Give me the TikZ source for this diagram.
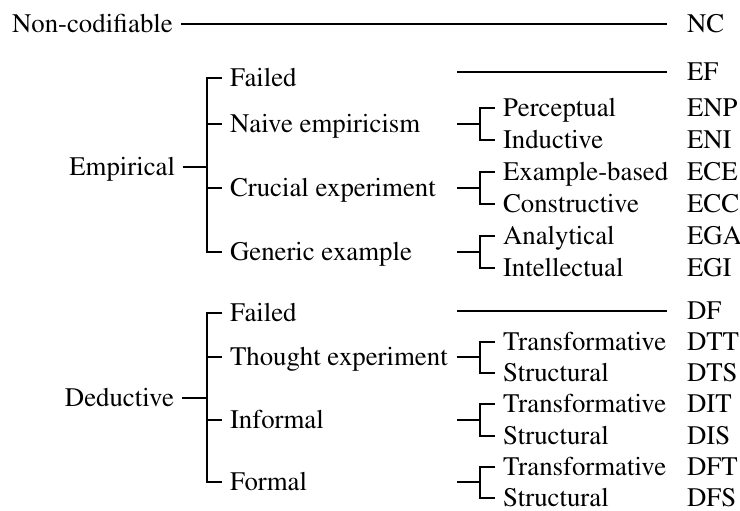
\documentclass[tikz,border=0pt]{standalone}
\usepackage[T1]{fontenc}
\usepackage{mathptmx}

\tikzset{
	lbl/.style={inner sep=2pt, outer sep=2pt, text height=8.9pt, text depth=0pt,
		font=\fontsize{13.4}{15}\selectfont},
	lft/.style={lbl, anchor=west},
	rgt/.style={lbl, anchor=east}
}

\begin{document}
\begin{tikzpicture}[x=0.5pt, y=-0.5pt, line width=1pt]
	\useasboundingbox (0,0) rectangle (740,510);
	% top level
	\node[lft] (noncod) at (4,24) {Non-codifiable};
	\node[rgt] (emp) at (183,167) {Empirical};
	\node[rgt] (ded) at (182,398) {Deductive};
	% empirical branch
	\node[lft] (efail) at (222,78) {Failed};
	\node[lft] (enaive) at (222,124) {Naive empiricism};
	\node[lft] (ecruc) at (222,188) {Crucial experiment};
	\node[lft] (egen) at (222,252) {Generic example};
	\node[lft] (enp) at (495,108) {Perceptual};
	\node[lft] (eni) at (495,140) {Inductive};
	\node[lft] (ece) at (495,172) {Example-based};
	\node[lft] (ecc) at (495,204) {Constructive};
	\node[lft] (ega) at (495,236) {Analytical};
	\node[lft] (egi) at (495,268) {Intellectual};
	% deductive branch
	\node[lft] (dfail) at (222,313) {Failed};
	\node[lft] (dthou) at (222,357) {Thought experiment};
	\node[lft] (dinf) at (222,420) {Informal};
	\node[lft] (dform) at (222,482) {Formal};
	\node[lft] (dtt) at (495,342) {Transformative};
	\node[lft] (dts) at (495,373) {Structural};
	\node[lft] (dit) at (495,404) {Transformative};
	\node[lft] (dis) at (495,436) {Structural};
	\node[lft] (dft) at (495,467) {Transformative};
	\node[lft] (dfs) at (495,498) {Structural};
	% codes
	\node[lft] (nc) at (679,24) {NC};
	\node[lft] (ef) at (679,72) {EF};
	\node[lft] (cenp) at (679,108) {ENP};
	\node[lft] (ceni) at (679,140) {ENI};
	\node[lft] (cece) at (679,172) {ECE};
	\node[lft] (cecc) at (679,204) {ECC};
	\node[lft] (cega) at (679,236) {EGA};
	\node[lft] (cegi) at (679,268) {EGI};
	\node[lft] (df) at (679,311) {DF};
	\node[lft] (cdtt) at (679,342) {DTT};
	\node[lft] (cdts) at (679,373) {DTS};
	\node[lft] (cdit) at (679,404) {DIT};
	\node[lft] (cdis) at (679,436) {DIS};
	\node[lft] (cdft) at (679,467) {DFT};
	\node[lft] (cdfs) at (679,498) {DFS};
	% bracket points
	\coordinate (col) at (457,0);
	\coordinate (ebr) at (207,167);
	\coordinate (dbr) at (207,398);
	\coordinate (enbr) at (480,124);
	\coordinate (ecbr) at (480,188);
	\coordinate (egbr) at (480,252);
	\coordinate (dtbr) at (480,357);
	\coordinate (dibr) at (480,420);
	\coordinate (dfbr) at (480,482);
	% lines
	\draw (noncod.east) -- ([xshift=-6pt]nc.west);
	\draw (col |- ef.west) -- ([xshift=-6pt]ef.west);
	\draw (col |- df.west) -- ([xshift=-6pt]df.west);
	\draw (emp.east) -- (ebr);
	\draw (efail.west) -| (ebr) |- (egen.west);
	\draw (ebr |- enaive.west) -- (enaive.west);
	\draw (ebr |- ecruc.west) -- (ecruc.west);
	\draw (ded.east) -- (dbr);
	\draw (dfail.west) -| (dbr) |- (dform.west);
	\draw (dbr |- dthou.west) -- (dthou.west);
	\draw (dbr |- dinf.west) -- (dinf.west);
	\draw (col |- enbr) -- (enbr);
	\draw (enp.west) -| (enbr) |- (eni.west);
	\draw (col |- ecbr) -- (ecbr);
	\draw (ece.west) -| (ecbr) |- (ecc.west);
	\draw (col |- egbr) -- (egbr);
	\draw (ega.west) -| (egbr) |- (egi.west);
	\draw (col |- dtbr) -- (dtbr);
	\draw (dtt.west) -| (dtbr) |- (dts.west);
	\draw (col |- dibr) -- (dibr);
	\draw (dit.west) -| (dibr) |- (dis.west);
	\draw (col |- dfbr) -- (dfbr);
	\draw (dft.west) -| (dfbr) |- (dfs.west);
\end{tikzpicture}
\end{document}
